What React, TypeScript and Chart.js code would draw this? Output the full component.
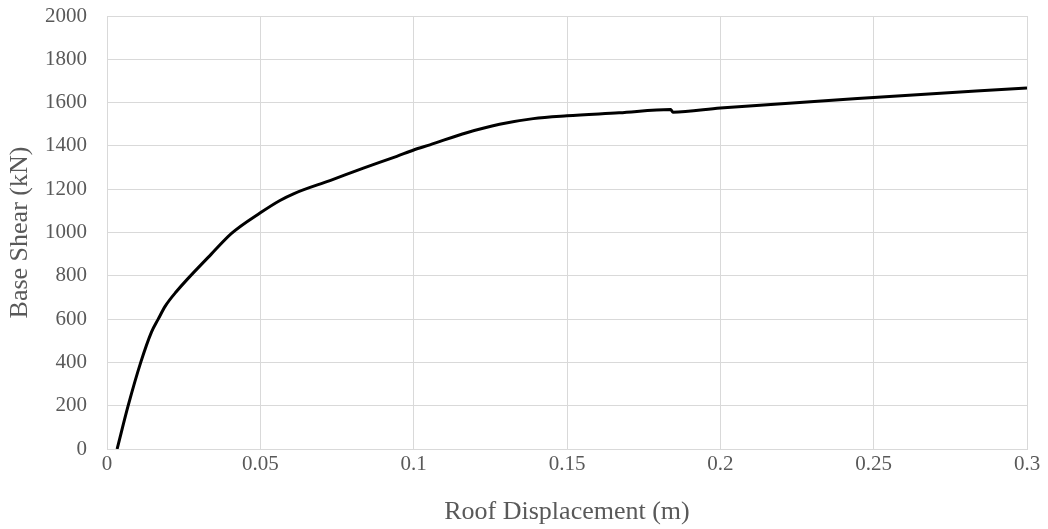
import React, { useEffect, useRef } from "react";
import { Chart, registerables } from "chart.js";

Chart.register(...registerables);

const displacement = [
  0.0033, 0.0069, 0.011, 0.0145, 0.0167, 0.019, 0.0225, 0.034, 0.0407, 0.05,
  0.0564, 0.061, 0.0727, 0.0836, 0.0945, 0.1, 0.1053, 0.1173, 0.128, 0.139,
  0.15, 0.167, 0.1838, 0.1845, 0.2, 0.25, 0.3,
];
const baseShear = [
  0, 200, 400, 540, 600, 660, 725, 900, 997, 1091,
  1148, 1180, 1240, 1297, 1352, 1381, 1405, 1461, 1500, 1526,
  1539, 1553, 1568, 1556, 1575, 1624, 1668,
];
const xTitle = "Roof Displacement (m)";
const yTitle = "Base Shear (kN)";

const FONT = "'Liberation Serif', 'Times New Roman', serif";
const GRID = "#d9d9d9";
const TEXT = "#595959";

export default function App() {
  const ref = useRef<HTMLCanvasElement | null>(null);
  useEffect(() => {
    if (!ref.current) return;
    const points = displacement.map((x, i) => ({ x, y: baseShear[i] }));
    const chart = new Chart(ref.current, {
      type: "line",
      data: {
        datasets: [
          {
            data: points,
            borderColor: "#000000",
            borderWidth: 3,
            pointRadius: 0,
            cubicInterpolationMode: "monotone",
            fill: false,
          },
        ],
      },
      options: {
        responsive: false,
        animation: false,
        layout: { padding: { left: 0, right: 21, top: 16, bottom: 0 } },
        plugins: { legend: { display: false }, tooltip: { enabled: false } },
        scales: {
          x: {
            type: "linear",
            min: 0,
            max: 0.3,
            afterFit: (s: any) => {
              s.height = 80;
              s.paddingLeft = 0;
              s.paddingRight = 0;
            },
            ticks: {
              stepSize: 0.05,
              color: TEXT,
              font: { family: FONT, size: 21 },
              padding: 3,
              maxRotation: 0,
              callback: (v: any) => String(Math.round(Number(v) * 100) / 100),
            },
            grid: { color: GRID, lineWidth: 1, drawTicks: false },
            border: { color: GRID, width: 1 },
            title: {
              display: true,
              text: xTitle,
              color: TEXT,
              font: { family: FONT, size: 26 },
              padding: { top: 0, bottom: 1 },
            },
          },
          y: {
            type: "linear",
            min: 0,
            max: 2000,
            afterFit: (s: any) => {
              s.width = 107;
              s.paddingTop = 0;
              s.paddingBottom = 0;
            },
            ticks: {
              stepSize: 200,
              color: TEXT,
              font: { family: FONT, size: 21 },
              padding: 20,
              callback: (v: any) => String(v),
            },
            grid: { color: GRID, lineWidth: 1, drawTicks: false },
            border: { color: GRID, width: 1 },
            title: {
              display: true,
              text: yTitle,
              color: TEXT,
              font: { family: FONT, size: 26 },
              padding: { top: 5, bottom: 0 },
            },
          },
        },
      },
    });
    return () => chart.destroy();
  }, []);
  return (
    <div style={{ position: "fixed", left: 0, top: 0, width: 1048, height: 529, background: "#fff" }}>
      <canvas ref={ref} width={1048} height={529} style={{ display: "block" }} />
    </div>
  );
}
